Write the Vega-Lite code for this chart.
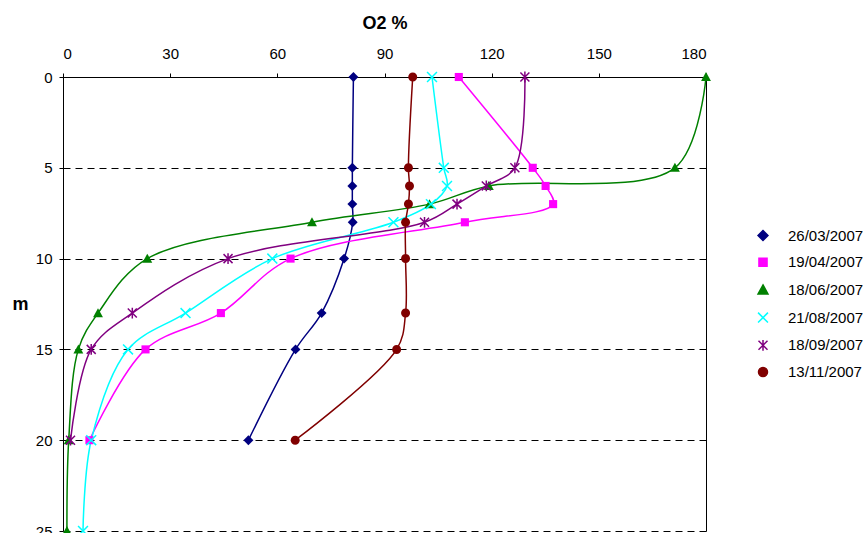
{
  "$schema": "https://vega.github.io/schema/vega-lite/v6.json",
  "width": 643,
  "height": 454,
  "autosize": {"type": "none"},
  "padding": {"left": 63, "top": 77, "right": 161, "bottom": 2},
  "background": "white",
  "config": {"view": {"stroke": null}, "font": "Liberation Sans"},
  "data": {"values": [
    {"date": "26/03/2007", "depth": 0, "o2": 81.3},
    {"date": "26/03/2007", "depth": 5, "o2": 81.0},
    {"date": "26/03/2007", "depth": 6, "o2": 81.0},
    {"date": "26/03/2007", "depth": 7, "o2": 81.0},
    {"date": "26/03/2007", "depth": 8, "o2": 81.1},
    {"date": "26/03/2007", "depth": 10, "o2": 78.7},
    {"date": "26/03/2007", "depth": 13, "o2": 72.4},
    {"date": "26/03/2007", "depth": 15, "o2": 65.1},
    {"date": "26/03/2007", "depth": 20, "o2": 51.9},
    {"date": "19/04/2007", "depth": 0, "o2": 110.8},
    {"date": "19/04/2007", "depth": 5, "o2": 131.5},
    {"date": "19/04/2007", "depth": 6, "o2": 135.1},
    {"date": "19/04/2007", "depth": 7, "o2": 137.2},
    {"date": "19/04/2007", "depth": 8, "o2": 112.5},
    {"date": "19/04/2007", "depth": 10, "o2": 63.7},
    {"date": "19/04/2007", "depth": 13, "o2": 44.2},
    {"date": "19/04/2007", "depth": 15, "o2": 23.1},
    {"date": "19/04/2007", "depth": 20, "o2": 7.4},
    {"date": "18/06/2007", "depth": 0, "o2": 180.0},
    {"date": "18/06/2007", "depth": 5, "o2": 171.3},
    {"date": "18/06/2007", "depth": 6, "o2": 119.2},
    {"date": "18/06/2007", "depth": 7, "o2": 102.6},
    {"date": "18/06/2007", "depth": 8, "o2": 69.7},
    {"date": "18/06/2007", "depth": 10, "o2": 23.6},
    {"date": "18/06/2007", "depth": 13, "o2": 9.8},
    {"date": "18/06/2007", "depth": 15, "o2": 4.3},
    {"date": "18/06/2007", "depth": 20, "o2": 1.6},
    {"date": "18/06/2007", "depth": 25, "o2": 1.1},
    {"date": "21/08/2007", "depth": 0, "o2": 103.3},
    {"date": "21/08/2007", "depth": 5, "o2": 106.6},
    {"date": "21/08/2007", "depth": 6, "o2": 107.5},
    {"date": "21/08/2007", "depth": 7, "o2": 103.0},
    {"date": "21/08/2007", "depth": 8, "o2": 92.5},
    {"date": "21/08/2007", "depth": 10, "o2": 58.6},
    {"date": "21/08/2007", "depth": 13, "o2": 34.3},
    {"date": "21/08/2007", "depth": 15, "o2": 18.2},
    {"date": "21/08/2007", "depth": 20, "o2": 7.9},
    {"date": "21/08/2007", "depth": 25, "o2": 5.6},
    {"date": "18/09/2007", "depth": 0, "o2": 129.3},
    {"date": "18/09/2007", "depth": 5, "o2": 126.5},
    {"date": "18/09/2007", "depth": 6, "o2": 118.5},
    {"date": "18/09/2007", "depth": 7, "o2": 110.3},
    {"date": "18/09/2007", "depth": 8, "o2": 101.2},
    {"date": "18/09/2007", "depth": 10, "o2": 46.2},
    {"date": "18/09/2007", "depth": 13, "o2": 19.4},
    {"date": "18/09/2007", "depth": 15, "o2": 7.9},
    {"date": "18/09/2007", "depth": 20, "o2": 2.1},
    {"date": "13/11/2007", "depth": 0, "o2": 97.9},
    {"date": "13/11/2007", "depth": 5, "o2": 96.7},
    {"date": "13/11/2007", "depth": 6, "o2": 97.0},
    {"date": "13/11/2007", "depth": 7, "o2": 96.7},
    {"date": "13/11/2007", "depth": 8, "o2": 95.9},
    {"date": "13/11/2007", "depth": 10, "o2": 95.9},
    {"date": "13/11/2007", "depth": 13, "o2": 95.9},
    {"date": "13/11/2007", "depth": 15, "o2": 93.4},
    {"date": "13/11/2007", "depth": 20, "o2": 65.0}
  ]},
  "encoding": {
    "color": {"field": "date", "type": "nominal",
      "scale": {"domain": ["26/03/2007", "19/04/2007", "18/06/2007", "21/08/2007", "18/09/2007", "13/11/2007"],
        "range": ["#000080", "#FF00FF", "#008000", "#00FFFF", "#800080", "#800000"]},
      "legend": {"title": null, "orient": "none", "legendX": 692.5, "legendY": 151,
        "padding": 0, "labelOffset": 17.5, "labelFontSize": 15, "labelColor": "black",
        "rowPadding": 10.7, "symbolSize": 81,
        "encode": {"symbols": {"update": {
          "stroke": {"signal": "datum.value == '26/03/2007' ? '#000080' : datum.value == '19/04/2007' ? '#FF00FF' : datum.value == '18/06/2007' ? '#008000' : datum.value == '21/08/2007' ? '#00FFFF' : datum.value == '18/09/2007' ? '#800080' : '#800000'"},
          "fill": {"signal": "datum.value == '26/03/2007' ? '#000080' : datum.value == '19/04/2007' ? '#FF00FF' : datum.value == '18/06/2007' ? '#008000' : datum.value == '21/08/2007' ? '#00FFFF' : datum.value == '18/09/2007' ? '#800080' : '#800000'"},
          "strokeWidth": {"value": 1.5},
          "size": {"value": 81},
          "opacity": {"value": 1}
        }}}}}
  },
  "layer": [
    {
      "mark": {"type": "line", "interpolate": "catmull-rom", "strokeWidth": 1.5},
      "encoding": {
        "x": {"field": "o2", "type": "quantitative",
          "scale": {"domain": [0, 180], "nice": false, "zero": false},
          "axis": {"orient": "top", "values": [0, 30, 60, 90, 120, 150, 180], "grid": false,
            "tickSize": 4, "tickColor": "black", "domainColor": "black", "labelColor": "black",
            "labelFontSize": 15, "labelPadding": 12, "title": "O2 %", "titleFontSize": 18,
            "titleFontWeight": "bold", "titleColor": "black", "titlePadding": 14}},
        "y": {"field": "depth", "type": "quantitative",
          "scale": {"domain": [0, 25], "nice": false, "reverse": true},
          "axis": {"orient": "left", "values": [0, 5, 10, 15, 20, 25], "grid": true,
            "gridDash": [7, 5], "gridColor": "black", "gridOpacity": 1, "gridWidth": 1,
            "tickSize": 4, "tickColor": "black", "domainColor": "black", "labelColor": "black",
            "labelFontSize": 15, "labelPadding": 7, "title": "m", "titleAngle": 0,
            "titleX": -43, "titleY": 227, "titleAlign": "center", "titleBaseline": "middle",
            "titleFontSize": 18, "titleFontWeight": "bold", "titleColor": "black"}},
        "order": {"field": "depth", "type": "quantitative"}
      }
    },
    {
      "transform": [{"filter": {"field": "date", "oneOf": ["26/03/2007", "19/04/2007", "18/06/2007", "13/11/2007"]}}],
      "mark": {"type": "point", "filled": true, "size": 81, "opacity": 1},
      "encoding": {
        "x": {"field": "o2", "type": "quantitative"},
        "y": {"field": "depth", "type": "quantitative",
          "scale": {"domain": [0, 25], "nice": false, "reverse": true},
          "axis": {"orient": "right", "labels": false, "ticks": false, "grid": false,
            "title": null, "domainColor": "black"}},
        "shape": {"field": "date", "type": "nominal",
          "scale": {"domain": ["26/03/2007", "19/04/2007", "18/06/2007", "21/08/2007", "18/09/2007", "13/11/2007"],
            "range": ["M0,-1.1L1.1,0L0,1.1L-1.1,0Z", "M-0.9,-0.9L0.9,-0.9L0.9,0.9L-0.9,0.9Z", "M0,-1.1L1.1,0.9L-1.1,0.9Z", "M-1.1,-1.1L1.1,1.1M-1.1,1.1L1.1,-1.1", "M-1,-1L1,1M-1,1L1,-1M0,-1.2L0,1.2", "M1,0A1,1,0,1,1,-1,0A1,1,0,1,1,1,0Z"]}}
      }
    },
    {
      "transform": [{"filter": {"field": "date", "oneOf": ["21/08/2007", "18/09/2007"]}}],
      "mark": {"type": "point", "filled": false, "size": 81, "strokeWidth": 1.5, "opacity": 1},
      "encoding": {
        "x": {"field": "o2", "type": "quantitative"},
        "y": {"field": "depth", "type": "quantitative",
          "scale": {"domain": [0, 25], "nice": false, "reverse": true},
          "axis": null},
        "shape": {"field": "date", "type": "nominal",
          "scale": {"domain": ["26/03/2007", "19/04/2007", "18/06/2007", "21/08/2007", "18/09/2007", "13/11/2007"],
            "range": ["M0,-1.1L1.1,0L0,1.1L-1.1,0Z", "M-0.9,-0.9L0.9,-0.9L0.9,0.9L-0.9,0.9Z", "M0,-1.1L1.1,0.9L-1.1,0.9Z", "M-1.1,-1.1L1.1,1.1M-1.1,1.1L1.1,-1.1", "M-1,-1L1,1M-1,1L1,-1M0,-1.2L0,1.2", "M1,0A1,1,0,1,1,-1,0A1,1,0,1,1,1,0Z"]}}
      }
    }
  ],
  "resolve": {"axis": {"y": "independent"}}
}
